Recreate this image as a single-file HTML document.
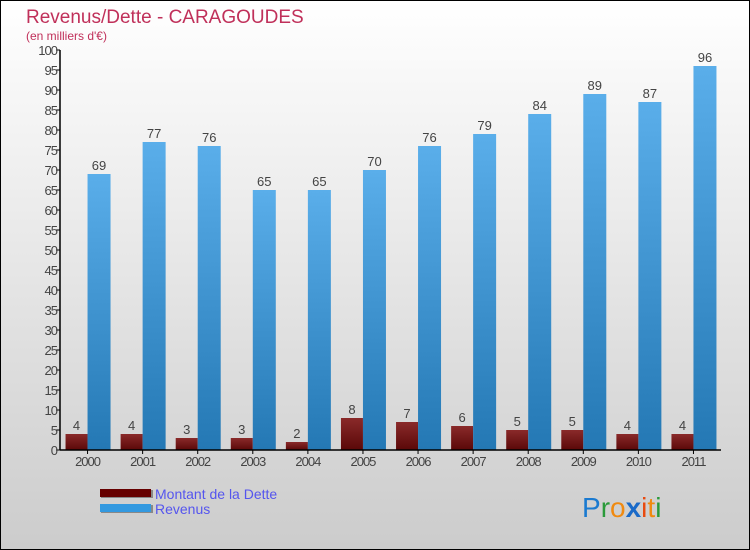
<!DOCTYPE html>
<html><head><meta charset="utf-8"><style>
body{margin:0}
svg{display:block;font-family:"Liberation Sans",sans-serif}
</style></head><body>
<svg width="750" height="550">
<defs>
<linearGradient id="bg" x1="0" y1="0" x2="0" y2="1"><stop offset="0" stop-color="#ffffff"/><stop offset="1" stop-color="#cccccc"/></linearGradient>
<linearGradient id="gr" x1="0" y1="0" x2="0" y2="1"><stop offset="0" stop-color="#5aaeea"/><stop offset="1" stop-color="#2478b4"/></linearGradient>
<linearGradient id="gd" x1="0" y1="0" x2="0" y2="1"><stop offset="0" stop-color="#8a2a2a"/><stop offset="1" stop-color="#5a0808"/></linearGradient>
</defs>
<rect x="0.5" y="0.5" width="749" height="549" fill="url(#bg)" stroke="#000"/>
<text x="26" y="23" font-size="19" fill="#c0305a">Revenus/Dette - CARAGOUDES</text>
<text x="26" y="40" font-size="12" fill="#c0305a">(en milliers d'€)</text>
<g id="plot"></g>
<g>
<rect x="101" y="490" width="52" height="8" fill="#888"/><rect x="100" y="489" width="51" height="8" fill="#660000"/>
<text x="155" y="499" font-size="14" fill="#5555ee">Montant de la Dette</text>
<rect x="101" y="505" width="52" height="8" fill="#888"/><rect x="100" y="504" width="51" height="8" fill="#3399e0"/>
<text x="155" y="514" font-size="14" fill="#5555ee">Revenus</text>
</g>
<g font-size="28" font-family="Liberation Sans, sans-serif">
<text x="582" y="517"><tspan fill="#1a7ad0">P</tspan><tspan fill="#2a9a3a">r</tspan><tspan fill="#f08a10">o</tspan><tspan fill="#1a6ac8" font-weight="bold">x</tspan><tspan fill="#e84a10">i</tspan><tspan fill="#f08a10">t</tspan><tspan fill="#2a9a3a">i</tspan></text>
</g>
</svg>
<script>
const years=["2000","2001","2002","2003","2004","2005","2006","2007","2008","2009","2010","2011"];
const dette=[4,4,3,3,2,8,7,6,5,5,4,4];
const revenus=[69,77,76,65,65,70,76,79,84,89,87,96];
const yTicks=[0,5,10,15,20,25,30,35,40,45,50,55,60,65,70,75,80,85,90,95,100];
const NS="http://www.w3.org/2000/svg";
const g=document.getElementById('plot');
const x0=60,x1=721,yb=450,yt=50;
const band=(x1-x0)/years.length;
const y=v=>yb-(v/100)*(yb-yt);
const cx=i=>x0+band*(i+0.5);
function mk(t,a,p){const e=document.createElementNS(NS,t);for(const k in a)e.setAttribute(k,a[k]);(p||g).appendChild(e);return e;}
yTicks.forEach(v=>{
 const t=mk('line',{x1:x0-4,x2:x0,y1:y(v),y2:y(v),stroke:'#000'});
 
 
 const l=mk('text',{x:x0-3,y:y(v)+5,'font-size':13,fill:'#444','text-anchor':'end','letter-spacing':'-1'});
 l.textContent=v;
 
 
});
years.forEach((yr,i)=>{
 const c=cx(i);
 const bd=mk('rect',{x:c-22,y:y(dette[i]),width:22,height:yb-y(dette[i]),fill:'url(#gd)'});
 
 
 const br=mk('rect',{x:c,y:y(revenus[i]),width:23,height:yb-y(revenus[i]),fill:'url(#gr)'});
 
 
 const ld=mk('text',{x:c-11,y:y(dette[i])-4,'font-size':13,fill:'#444','text-anchor':'middle'});
 ld.textContent=dette[i];
 
 
 const lr=mk('text',{x:c+11.5,y:y(revenus[i])-4,'font-size':13,fill:'#444','text-anchor':'middle'});
 lr.textContent=revenus[i];
 
 
 const tk=mk('line',{x1:c,x2:c,y1:yb,y2:yb+4,stroke:'#000'});
 
 
 const xl=mk('text',{x:c,y:466,'font-size':13,fill:'#444','text-anchor':'middle','letter-spacing':'-1'});
 xl.textContent=yr;
 
 
});
const ya=mk('line',{x1:x0,x2:x0,y1:yt,y2:yb,stroke:'#000','stroke-width':1.5});


const xa=mk('line',{x1:x0,x2:x1,y1:yb,y2:yb,stroke:'#000','stroke-width':1.5});


</script>
</body></html>
